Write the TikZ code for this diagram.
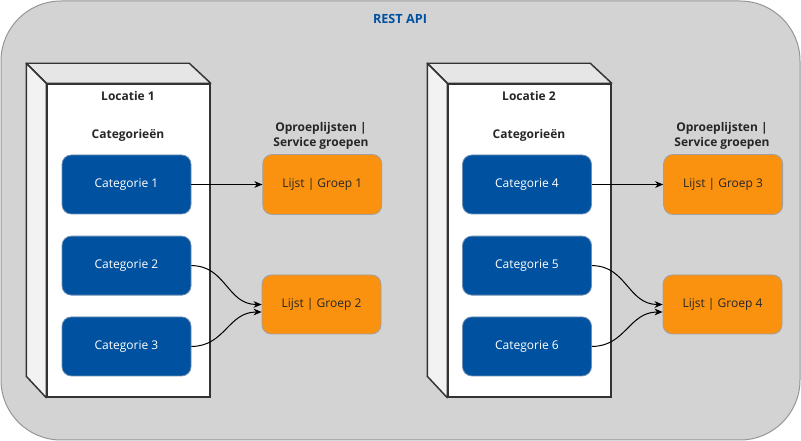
\documentclass[tikz,border=0pt]{standalone}
\usepackage{fontspec}
\setmainfont{Open Sans}
\usepackage{tikz}
\usetikzlibrary{arrows,arrows.meta,positioning,calc}
\definecolor{bggray}{RGB}{211, 211, 211}
\definecolor{bgline}{RGB}{150, 150, 150}
\definecolor{catblue}{RGB}{0, 82, 160}
\definecolor{catline}{RGB}{110, 142, 180}
\definecolor{listorange}{RGB}{250, 146, 16}
\definecolor{listline}{RGB}{160, 160, 160}
\definecolor{cubeline}{RGB}{51, 51, 51}
\definecolor{cubetop}{RGB}{230, 230, 230}
\definecolor{cubeside}{RGB}{242, 242, 242}
\tikzstyle{cat} = [rectangle, rounded corners=7pt, draw=catline, line width=0.6pt, fill=catblue, text=white, font=\fontsize{9}{11}\selectfont, minimum width=96.75pt, minimum height=44.25pt, inner sep=0pt]
\tikzstyle{lijst} = [rectangle, rounded corners=7pt, draw=listline, line width=0.6pt, fill=listorange, text=black!85, font=\fontsize{9}{11}\selectfont, minimum width=89.25pt, minimum height=45pt, inner sep=0pt]
\tikzstyle{front} = [rectangle, draw=cubeline, line width=1.1pt, fill=white, minimum width=122.25pt, minimum height=234.75pt, inner sep=0pt]
\tikzstyle{face} = [draw=cubeline, line width=1.1pt, line join=round]
\tikzstyle{heading} = [font=\bfseries\fontsize{9}{11.5}\selectfont, text=black!85, align=center]
\tikzstyle{tedge}  = [draw, line width=0.75pt, >={Stealth[length=6pt, width=5pt, inset=1.8pt]}, ->]

\begin{document}
\begin{tikzpicture}[x=0.75pt, y=-0.75pt]

\useasboundingbox (0,0) rectangle (801,441);

% background =============================
\draw[fill=bggray, draw=bgline, line width=0.75pt, rounded corners=45pt] (1,1) rectangle (800,440);
\node[font=\bfseries\fontsize{9.5}{11}\selectfont, text=catblue] (api) at (400,19) {REST API};

% Locatie 1 =============================
\node[front] (front1) at (128.5,240.5) {};
\path[face, fill=cubetop] (front1.north west) -- ++(-20,-20) -- ++(163,0) -- (front1.north east) -- cycle;
\path[face, fill=cubeside] (front1.north west) -- ++(-20,-20) -- ++(0,313) -- (front1.south west) -- cycle;
\node[heading] (loc1) at (128,96) {Locatie 1};
\node[heading] (cats1) at (128,135) {Categorieën};

\node[cat] (cat1) at (126.5,184.5) {Categorie 1};
\node[cat, below=16pt of cat1] (cat2) {Categorie 2};
\node[cat, below=15.75pt of cat2] (cat3) {Categorie 3};

\node[heading] (opr1) at (321,136) {Oproeplijsten |\\Service groepen};
\node[lijst, right=53.25pt of cat1] (l1) {Lijst | Groep 1};
\node[lijst, minimum height=44.25pt] (l2) at (321.5,304.5) {Lijst | Groep 2};

% Locatie 2 =============================
\node[front] (front2) at (529.5,240.5) {};
\path[face, fill=cubetop] (front2.north west) -- ++(-20,-20) -- ++(163,0) -- (front2.north east) -- cycle;
\path[face, fill=cubeside] (front2.north west) -- ++(-20,-20) -- ++(0,313) -- (front2.south west) -- cycle;
\node[heading] (loc2) at (529,96) {Locatie 2};
\node[heading] (cats2) at (529,135) {Categorieën};

\node[cat] (cat4) at (527,184.5) {Categorie 4};
\node[cat, below=16pt of cat4] (cat5) {Categorie 5};
\node[cat, below=15.75pt of cat5] (cat6) {Categorie 6};

\node[heading] (opr2) at (722,136) {Oproeplijsten |\\Service groepen};
\node[lijst, right=53.5pt of cat4] (l3) {Lijst | Groep 3};
\node[lijst, minimum height=44.25pt] (l4) at (722.5,304.5) {Lijst | Groep 4};

% edges
\coordinate (l2b) at ($(l2.west)+(0,7.5)$);
\coordinate (l4b) at ($(l4.west)+(0,7.5)$);

\path[tedge] (cat1) -- (l1);
\path[tedge] (cat2.east) to [out=0, in=180, looseness=1.1] (l2.west);
\path[tedge] (cat3.east) to [out=0, in=180, looseness=1.1] (l2b);

\path[tedge] (cat4) -- (l3);
\path[tedge] (cat5.east) to [out=0, in=180, looseness=1.1] (l4.west);
\path[tedge] (cat6.east) to [out=0, in=180, looseness=1.1] (l4b);

\end{tikzpicture}
\end{document}
